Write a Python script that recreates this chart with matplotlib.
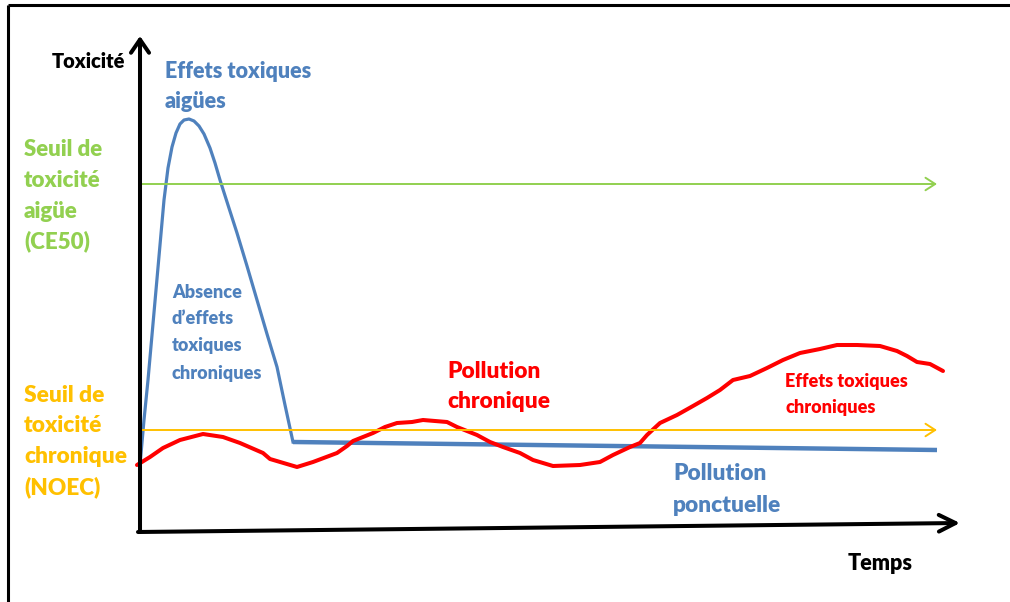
import matplotlib.pyplot as plt

plt.rcParams['font.family'] = ['Lato', 'DejaVu Sans']

# courbes (x = temps, y = toxicite, en pixels, y vers le bas)
ponct_x = [140, 144, 148, 152, 156, 160, 164, 168, 172, 176, 180, 184, 189,
           194, 199, 204, 210, 215, 220, 228, 237, 247, 257, 267, 277, 285, 293]
ponct_y = [465, 420, 380, 335, 290, 245, 200, 168, 147, 133, 124, 120, 119,
           121, 126, 134, 148, 163, 180, 205, 233, 266, 300, 334, 367, 405, 442]
plateau_x = [293, 937]
plateau_y = [442, 450]

chron_x = [137, 150, 163, 180, 203, 223, 240, 263, 270, 297, 313, 337, 347, 353,
           363, 373, 385, 397, 412, 423, 447, 457, 467, 477, 490, 503, 520, 533,
           553, 580, 600, 613, 630, 640, 647, 660, 677, 693, 707, 720, 733, 750,
           767, 783, 800, 820, 837, 857, 880, 897, 907, 917, 930, 943]
chron_y = [465, 457, 448, 440, 434, 437, 443, 453, 459, 467, 462, 453, 446, 441,
           437, 433, 427, 423, 422, 420, 422, 427, 431, 435, 442, 447, 453, 460,
           466, 465, 462, 455, 447, 443, 435, 423, 415, 406, 398, 390, 380, 376,
           368, 360, 353, 349, 345, 345, 346, 351, 356, 362, 364, 371]

seuil_aigu = 184
seuil_chron = 430
seuil_fin = 937

BLUE = '#4F81BD'
RED = '#FF0000'
GREEN = '#92D050'
YELLOW = '#FFC000'

fig = plt.figure(figsize=(10.1, 6.02), dpi=100)
ax = fig.add_axes([0, 0, 1, 1])
ax.set_xlim(0, 1010)
ax.set_ylim(602, 0)
ax.axis('off')

# cadre (haut et gauche)
ax.plot([8, 1010], [5, 5], color='black', lw=2.2, solid_capstyle='butt')
ax.plot([8, 8], [5, 602], color='black', lw=2.2, solid_capstyle='butt')


def arrow(x0, y0, x1, y1, color, lw, hl, hw):
    ax.annotate('', xy=(x1, y1), xytext=(x0, y0),
                arrowprops=dict(arrowstyle=f'->,head_length={hl},head_width={hw}',
                                color=color, lw=lw, shrinkA=0, shrinkB=0,
                                mutation_scale=10))


# seuils
arrow(140, seuil_aigu, seuil_fin, seuil_aigu, GREEN, 1.4, 0.7, 0.45)
arrow(140, seuil_chron, seuil_fin, seuil_chron, YELLOW, 1.4, 0.7, 0.45)

# courbes
ax.plot(plateau_x, plateau_y, color=BLUE, lw=3.2, solid_capstyle='butt')
ax.plot(ponct_x, ponct_y, color=BLUE, lw=2.3, solid_joinstyle='round')
ax.plot(chron_x, chron_y, color=RED, lw=2.9, solid_joinstyle='round',
        solid_capstyle='round')

# axes
arrow(140, 532, 140, 36, 'black', 2.9, 0.95, 0.65)
arrow(138, 532, 960, 523, 'black', 2.9, 1.2, 0.6)


def lines(x, y0, dy, txt, color, size):
    for i, t in enumerate(txt):
        ax.text(x, y0 + i * dy, t, color=color, fontsize=size,
                fontweight='heavy', ha='left', va='center')


lines(52, 62, 0, ['Toxicité'], 'black', 14.5)
lines(848, 563, 0, ['Temps'], 'black', 15.5)
lines(165, 72, 29, ['Effets toxiques', 'aigües'], BLUE, 15.5)
lines(24, 150, 30.5, ['Seuil de', 'toxicité', 'aigüe', '(CE50)'], GREEN, 16)
lines(24, 395, 30.7, ['Seuil de', 'toxicité', 'chronique', '(NOEC)'], YELLOW, 16.3)
lines(172, 292, 27, ['Absence', 'd\u2019effets', 'toxiques', 'chroniques'], BLUE, 13)
lines(447, 372, 30, ['Pollution', 'chronique'], RED, 16.3)
lines(785, 382, 26, ['Effets toxiques', 'chroniques'], RED, 13)
lines(673, 473, 32, ['Pollution', 'ponctuelle'], BLUE, 16.3)

fig.savefig('out.png', dpi=100)
